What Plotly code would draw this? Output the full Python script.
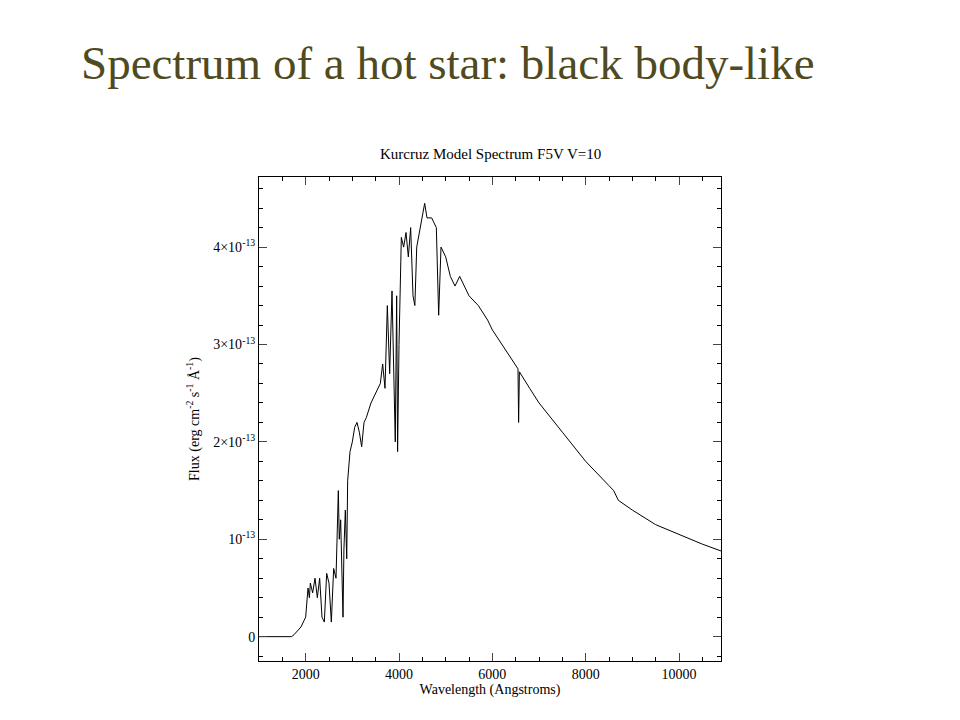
import plotly.graph_objects as go

# wavelength (Angstrom) and flux (units of 1e-13 erg cm-2 s-1 A-1)
wave = [1000, 1700, 1750, 1800, 1850, 1900, 1950, 2000, 2050, 2080, 2100, 2150, 2200, 2250, 2300,
        2350, 2400, 2450, 2500, 2550, 2600, 2650, 2700, 2720, 2750, 2780, 2800, 2820, 2850, 2880,
        2900, 2950, 3000, 3050, 3100, 3150, 3200, 3250, 3300, 3400, 3500, 3600, 3650, 3700, 3750,
        3800, 3850, 3900, 3920, 3950, 3970, 4000, 4050, 4100, 4150, 4200, 4250, 4300, 4340, 4380,
        4450, 4500, 4550, 4600, 4700, 4800, 4850, 4900, 5000, 5100, 5200, 5300, 5400, 5500, 5700,
        5900, 6000, 6200, 6400, 6550, 6563, 6580, 6800, 7000, 7500, 8000, 8500, 8600, 8700, 9000,
        9500, 10000, 10500, 10900]
flux = [0, 0, 0.02, 0.05, 0.08, 0.1, 0.15, 0.2, 0.5, 0.4, 0.55, 0.45, 0.6, 0.4, 0.6,
        0.2, 0.15, 0.65, 0.55, 0.15, 0.7, 0.6, 1.5, 1.0, 1.2, 0.6, 0.2, 0.9, 1.3, 0.8,
        1.6, 1.9, 2.0, 2.15, 2.2, 2.1, 1.95, 2.2, 2.25, 2.4, 2.5, 2.6, 2.8, 2.55, 3.4,
        2.7, 3.55, 2.2, 2.0, 3.5, 1.9, 3.0, 4.1, 4.0, 4.15, 3.9, 4.2, 3.5, 3.4, 4.0,
        4.2, 4.3, 4.45, 4.3, 4.3, 4.2, 3.3, 4.0, 3.9, 3.7, 3.6, 3.7, 3.6, 3.5, 3.4,
        3.25, 3.15, 3.0, 2.85, 2.75, 2.2, 2.72, 2.55, 2.4, 2.1, 1.8, 1.55, 1.5, 1.4, 1.3,
        1.15, 1.05, 0.95, 0.88]

xtick_vals = [2000, 4000, 6000, 8000, 10000]
xtick_text = ['2000', '4000', '6000', '8000', '10000']
ytick_vals = [0, 1e-13, 2e-13, 3e-13, 4e-13]
ytick_text = ['0', '10<sup>-13</sup>', '2\u00d710<sup>-13</sup>', '3\u00d710<sup>-13</sup>', '4\u00d710<sup>-13</sup>']

fig = go.Figure()
fig.add_trace(go.Scatter(x=wave, y=[f*1e-13 for f in flux], mode='lines',
                         line=dict(color='black', width=1)))

axfont = dict(family='Liberation Serif', size=14, color='black')
fig.update_xaxes(range=[1000, 10900], tickvals=xtick_vals, ticktext=xtick_text,
                 ticks='inside', ticklen=8, mirror='ticks', showline=True, linecolor='black',
                 showgrid=False, zeroline=False, tickfont=axfont,
                 minor=dict(dtick=500, ticks='inside', ticklen=4, tickcolor='black'),
                 title=dict(text='Wavelength (Angstroms)', font=axfont, standoff=2))
fig.update_yaxes(range=[-0.25e-13, 4.72e-13], tickvals=ytick_vals, ticktext=ytick_text,
                 ticks='inside', ticklen=8, mirror='ticks', showline=True, linecolor='black',
                 showgrid=False, zeroline=False, tickfont=axfont,
                 minor=dict(dtick=0.2e-13, ticks='inside', ticklen=4, tickcolor='black'),
                 title=dict(text='Flux (erg cm<sup>-2</sup> s<sup>-1</sup> \u00c5<sup>-1</sup>)', font=axfont, standoff=10))

fig.update_layout(width=960, height=720, plot_bgcolor='white', paper_bgcolor='white',
                  showlegend=False, margin=dict(l=251, r=247, t=169, b=67))
fig.add_annotation(text='Spectrum of a hot star: black body-like', xref='paper', yref='paper',
                   x=-0.39, y=1.236, xanchor='left', yanchor='middle', showarrow=False,
                   font=dict(family='Liberation Serif', size=47, color='#4f4a20'))
fig.add_annotation(text='Kurcruz Model Spectrum F5V V=10', xref='paper', yref='paper',
                   x=0.5, y=1.048, xanchor='center', yanchor='middle', showarrow=False,
                   font=dict(family='Liberation Serif', size=15, color='black'))

fig.write_html("out.html")
